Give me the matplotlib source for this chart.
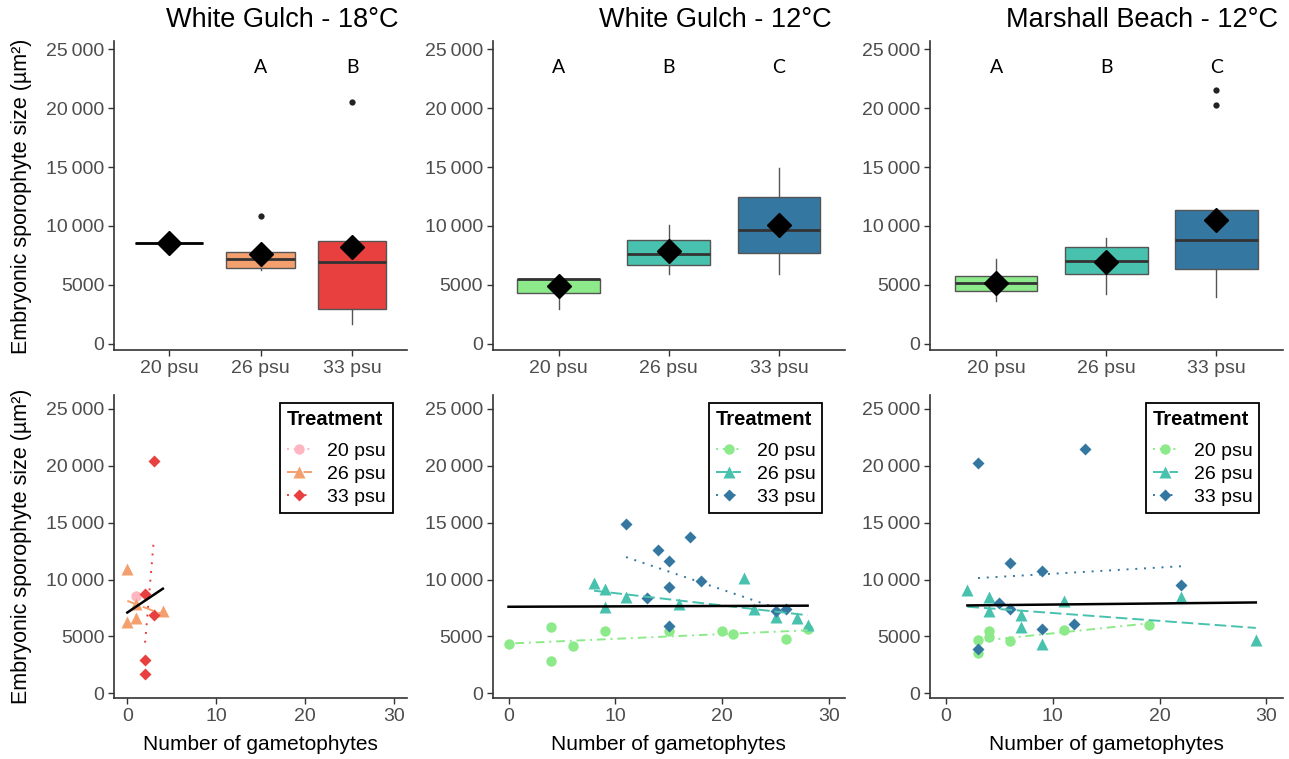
import matplotlib
matplotlib.use("Agg")
import matplotlib.pyplot as plt
from matplotlib.lines import Line2D
import numpy as np

plt.rcParams['font.family'] = ['Liberation Sans', 'DejaVu Sans']

# ---------------- data ----------------
categories = ["20 psu", "26 psu", "33 psu"]
panel_titles = ["White Gulch - 18°C", "White Gulch - 12°C", "Marshall Beach - 12°C"]
sig_letters = [["", "A", "B"], ["A", "B", "C"], ["A", "B", "C"]]
y_ticks = [0, 5000, 10000, 15000, 20000, 25000]
y_tick_labels = ["0", "5000", "10\u2009000", "15\u2009000", "20\u2009000", "25\u2009000"]
x_ticks_bottom = [0, 10, 20, 30]

colors_wg18 = ["#FFB6C1", "#F4A06E", "#E8403E"]
colors_12 = ["#8DEA8A", "#48C2AE", "#3478A2"]

# box statistics (top row)
wg18_q1 = [8590, 6470, 2930]
wg18_med = [8590, 7200, 6980]
wg18_q3 = [8590, 7770, 8760]
wg18_lo = [8590, 6270, 1700]
wg18_hi = [8590, 7770, 8760]
wg18_mean = [8590, 7630, 8190]
wg18_out = [[], [10820], [20540]]

wg12_q1 = [4320, 6690, 7680]
wg12_med = [5480, 7630, 9660]
wg12_q3 = [5540, 8840, 12430]
wg12_lo = [2930, 5900, 5900]
wg12_hi = [5540, 10085, 14940]
wg12_mean = [4940, 7850, 10080]
wg12_out = [[], [], []]

mb_q1 = [4490, 5930, 6390]
mb_med = [5170, 7060, 8810]
mb_q3 = [5790, 8190, 11330]
mb_lo = [3670, 4270, 4010]
mb_hi = [7230, 8950, 11330]
mb_mean = [5170, 6920, 10510]
mb_out = [[], [], [20250, 21520]]

# scatter data (bottom row): number of gametophytes vs size
wg18_x20 = [1]
wg18_y20 = [8555]
wg18_x26 = [0, 0, 1, 1, 4]
wg18_y26 = [10930, 6240, 6590, 7850, 7240]
wg18_x33 = [3, 2, 3, 2, 2]
wg18_y33 = [20425, 8760, 6885, 2930, 1670]

wg12_x20 = [0, 4, 4, 6, 9, 15, 20, 21, 26, 28]
wg12_y20 = [4308, 5803, 2870, 4159, 5506, 5506, 5475, 5243, 4748, 5652]
wg12_x26 = [8, 9, 9, 11, 16, 22, 23, 25, 27, 28]
wg12_y26 = [9726, 9144, 7561, 8494, 7879, 10165, 7385, 6682, 6621, 5979]
wg12_x33 = [11, 14, 15, 17, 18, 15, 13, 15, 25, 26]
wg12_y33 = [14860, 12627, 11633, 13743, 9874, 9374, 8353, 5891, 7210, 7444]

mb_x20 = [3, 3, 4, 4, 6, 11, 19]
mb_y20 = [4687, 3570, 5506, 4977, 4625, 5565, 6033]
mb_x26 = [2, 4, 4, 7, 7, 9, 11, 22, 29]
mb_y26 = [9083, 8441, 7263, 6885, 5857, 4335, 8142, 8494, 4687]
mb_x33 = [3, 13, 6, 9, 22, 5, 6, 9, 12, 3]
mb_y33 = [20223, 21508, 11484, 10780, 9549, 7913, 7386, 5654, 6093, 3895]

# ---------------- styling ----------------
W, H = 1289, 759
fig = plt.figure(figsize=(W / 100, H / 100), dpi=100)

def ax_at(x0, x1, y0, y1):
    return fig.add_axes([x0 / W, (H - y1) / H, (x1 - x0) / W, (y1 - y0) / H])

cols_px = [(114, 407), (492.5, 845), (930, 1282.5)]
top_px = (41, 350)
bot_px = (395, 698.3)

spine_c = "#333333"
tick_c = "#4D4D4D"
markers = ["o", "^", "D"]
msizes = [7.5, 9, 5.8]
lstyles = [(0, (1, 2.5, 4.5, 2.5)), (0, (6, 2.5)), (0, (1, 3.5))]

def style_axes(ax):
    for s in ["top", "right"]:
        ax.spines[s].set_visible(False)
    for s in ["left", "bottom"]:
        ax.spines[s].set_color(spine_c)
        ax.spines[s].set_linewidth(1.2)
    ax.tick_params(axis="both", colors=spine_c, length=4, width=1.0,
                   labelcolor=tick_c, labelsize=14, pad=3)
    ax.set_yticks(y_ticks)

box_sets = [
    (wg18_q1, wg18_med, wg18_q3, wg18_lo, wg18_hi, wg18_mean, wg18_out, colors_wg18),
    (wg12_q1, wg12_med, wg12_q3, wg12_lo, wg12_hi, wg12_mean, wg12_out, colors_12),
    (mb_q1, mb_med, mb_q3, mb_lo, mb_hi, mb_mean, mb_out, colors_12),
]
scatter_sets = [
    ([wg18_x20, wg18_x26, wg18_x33], [wg18_y20, wg18_y26, wg18_y33], colors_wg18),
    ([wg12_x20, wg12_x26, wg12_x33], [wg12_y20, wg12_y26, wg12_y33], colors_12),
    ([mb_x20, mb_x26, mb_x33], [mb_y20, mb_y26, mb_y33], colors_12),
]
title_x = [282, 715, 1142]
legend_right = [0.952, 0.9356, 0.934]

for k in range(3):
    # ---- top: boxplots ----
    ax = ax_at(cols_px[k][0], cols_px[k][1], *top_px)
    q1, med, q3, lo, hi, mean, out, cols = box_sets[k]
    stats = []
    for i in range(3):
        stats.append(dict(med=med[i], q1=q1[i], q3=q3[i], whislo=lo[i], whishi=hi[i],
                          fliers=out[i], mean=mean[i], label=categories[i]))
    bp = ax.bxp(stats, positions=[1, 2, 3], widths=0.75, patch_artist=True,
                showcaps=False, showmeans=True,
                boxprops=dict(edgecolor="#555555", linewidth=1.0),
                medianprops=dict(color="#333333", linewidth=2.0),
                whiskerprops=dict(color="#555555", linewidth=1.0),
                flierprops=dict(marker="o", markerfacecolor="#222222",
                                markeredgecolor="none", markersize=4.5),
                meanprops=dict(marker="D", markerfacecolor="black",
                               markeredgecolor="black", markersize=12.5))
    for patch, c in zip(bp["boxes"], cols):
        patch.set_facecolor(c)
    if k == 0:
        bp["medians"][0].set_color("black")
    for m in bp["means"]:
        m.set_zorder(5)
    for i, letter in enumerate(sig_letters[k]):
        if letter:
            ax.text(i + 1, 23400, letter, ha="center", va="center", fontsize=14,
                    family=["Lato", "DejaVu Sans"], color="black")
    style_axes(ax)
    ax.set_xlim(0.4, 3.6)
    ax.set_ylim(-510, 25680)
    ax.set_xticks([1, 2, 3])
    ax.set_xticklabels(categories)
    ax.set_yticklabels(y_tick_labels)
    fig.text(title_x[k] / W, 1 - 20 / H, panel_titles[k], ha="center", va="center",
             fontsize=19.5, color="black")

    # ---- bottom: scatter with linear fits ----
    ax2 = ax_at(cols_px[k][0], cols_px[k][1], *bot_px)
    xs, ys, cols = scatter_sets[k]
    handles = []
    for g in range(3):
        x = np.array(xs[g], dtype=float)
        y = np.array(ys[g], dtype=float)
        ax2.plot(x, y, linestyle="none", marker=markers[g], markersize=msizes[g],
                 color=cols[g], markeredgecolor="none", zorder=3)
        if len(np.unique(x)) > 1:
            b, a = np.polyfit(x, y, 1)
            xx = np.array([x.min(), x.max()])
            ax2.plot(xx, a + b * xx, color=cols[g], linestyle=lstyles[g],
                     linewidth=1.4, zorder=4)
        handles.append(Line2D([0], [0], color=cols[g], linestyle=lstyles[g], linewidth=1.4,
                              marker=markers[g], markersize=msizes[g],
                              markeredgecolor="none", label=categories[g]))
    allx = np.concatenate([np.array(v, dtype=float) for v in xs])
    ally = np.concatenate([np.array(v, dtype=float) for v in ys])
    b, a = np.polyfit(allx, ally, 1)
    xx = np.array([allx.min(), allx.max()])
    ax2.plot(xx, a + b * xx, color="black", linewidth=1.8, zorder=5)

    style_axes(ax2)
    ax2.set_xlim(-1.5, 31.5)
    ax2.set_ylim(-440, 26229)
    ax2.set_xticks(x_ticks_bottom)
    ax2.set_yticklabels(y_tick_labels)
    ax2.set_xlabel("Number of gametophytes", fontsize=15, color="black", labelpad=7)

    leg = ax2.legend(handles=handles, title="Treatment", loc="upper right",
                     bbox_to_anchor=(legend_right[k], 0.974), borderaxespad=0,
                     fontsize=14, title_fontproperties=dict(weight="bold", size=14.5),
                     frameon=True, fancybox=False, framealpha=1, edgecolor="black",
                     handlelength=1.3, handletextpad=0.8, labelspacing=0.28,
                     borderpad=0.35, alignment="left")
    leg.get_frame().set_linewidth(1.3)
    leg._legend_box.sep = 10

# y-axis labels
fig.text(22 / W, 1 - 196 / H, "Embryonic sporophyte size (µm²)", rotation=90,
         ha="center", va="center", fontsize=15.5, color="black")
fig.text(22 / W, 1 - 546.5 / H, "Embryonic sporophyte size (µm²)", rotation=90,
         ha="center", va="center", fontsize=15.5, color="black")

fig.savefig("out.png", dpi=100)
